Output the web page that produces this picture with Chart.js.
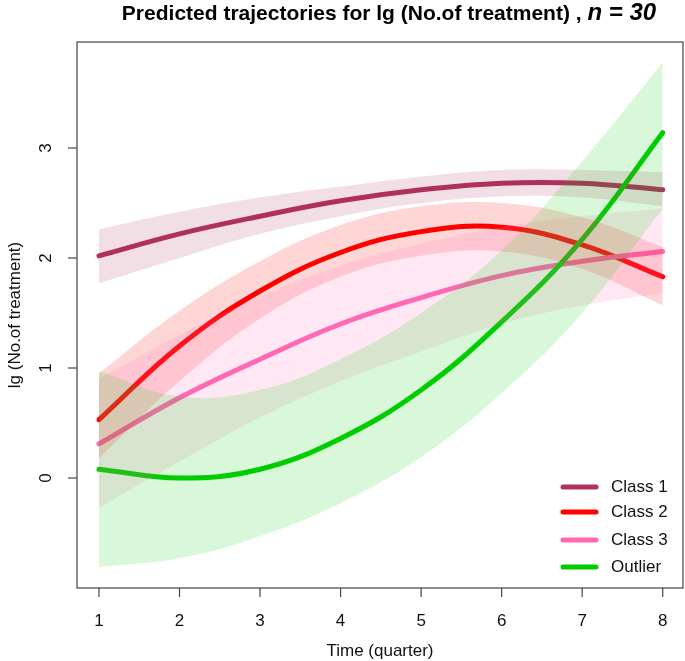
<!DOCTYPE html>
<html>
<head>
<meta charset="utf-8">
<script src="https://cdn.jsdelivr.net/npm/chart.js@4.4.1/dist/chart.umd.min.js"></script>
<style>
  body { margin: 0; background: #fff; }
  #wrap { width: 685px; height: 661px; }
</style>
</head>
<body>
<div id="wrap"><canvas id="trajChart" width="685" height="661"></canvas></div>
<script>
// quarters on the x axis
var quarters = [1, 2, 3, 4, 5, 6, 7, 8];
var xTicks = [1, 2, 3, 4, 5, 6, 7, 8];
var yTicks = [0, 1, 2, 3];

// predicted trajectories
var class1 = [2.02, 2.22, 2.38, 2.52, 2.62, 2.68, 2.68, 2.62];
var class1Lo = [1.77, 2.00, 2.22, 2.38, 2.50, 2.56, 2.55, 2.47];
var class1Hi = [2.26, 2.42, 2.55, 2.65, 2.74, 2.80, 2.80, 2.78];

var class2 = [0.53, 1.20, 1.70, 2.05, 2.24, 2.28, 2.12, 1.83];
var class2Lo = [0.18, 0.88, 1.45, 1.83, 2.02, 2.06, 1.90, 1.57];
var class2Hi = [0.95, 1.52, 1.97, 2.30, 2.47, 2.50, 2.37, 2.10];

var class3 = [0.31, 0.73, 1.08, 1.40, 1.64, 1.84, 1.97, 2.06];
var class3Lo = [-0.27, 0.15, 0.55, 0.88, 1.15, 1.40, 1.57, 1.68];
var class3Hi = [0.90, 1.30, 1.65, 1.93, 2.13, 2.28, 2.38, 2.45];

var outlier = [0.08, 0.00, 0.08, 0.36, 0.80, 1.42, 2.17, 3.14];
var outlierLo = [-0.81, -0.73, -0.53, -0.23, 0.19, 0.77, 1.50, 2.45];
var outlierHi = [0.97, 0.74, 0.80, 1.08, 1.50, 2.07, 2.88, 3.78];

var seriesNames = ["Class 1", "Class 2", "Class 3", "Outlier"];
var lineColors = ["#B03060", "#FF0000", "#FF69B4", "#00CD00"];
var bandColors = ["rgba(176,48,96,0.16)", "rgba(255,0,0,0.16)", "rgba(255,105,180,0.16)", "rgba(0,205,0,0.15)"];

var FONT = "'Liberation Sans', Arial, sans-serif";
var TENSION = 0.4;

function toPoints(values) {
    return quarters.map(function (q, i) { return { x: q, y: values[i] }; });
}

var lines = [class1, class2, class3, outlier];
var los = [class1Lo, class2Lo, class3Lo, outlierLo];
var his = [class1Hi, class2Hi, class3Hi, outlierHi];

var datasets = [];
// bands first in the list; order makes them draw over the lines
for (var i = 0; i < 4; i++) {
    datasets.push({
        data: toPoints(his[i]),
        fill: "+1",
        backgroundColor: bandColors[i],
        borderWidth: 0,
        pointRadius: 0,
        tension: TENSION,
        order: 4 - i
    });
    datasets.push({
        data: toPoints(los[i]),
        fill: false,
        borderWidth: 0,
        pointRadius: 0,
        tension: TENSION,
        order: 4 - i
    });
}
for (var j = 0; j < 4; j++) {
    datasets.push({
        label: seriesNames[j],
        data: toPoints(lines[j]),
        borderColor: lineColors[j],
        borderWidth: 5,
        borderCapStyle: "round",
        borderJoinStyle: "round",
        pointRadius: 0,
        fill: false,
        tension: TENSION,
        order: 20 - j
    });
}

// R-style frame, ticks, labels, title and legend
var baseGraphics = {
    id: "baseGraphics",
    afterDraw: function (chart) {
        var ctx = chart.ctx;
        var area = chart.chartArea;
        var xs = chart.scales.x;
        var ys = chart.scales.y;
        ctx.save();

        ctx.strokeStyle = "#444";
        ctx.lineWidth = 1.2;
        ctx.strokeRect(area.left, area.top, area.right - area.left, area.bottom - area.top);

        ctx.fillStyle = "#111";
        ctx.font = "17px " + FONT;
        ctx.textAlign = "center";
        ctx.textBaseline = "middle";
        xTicks.forEach(function (v) {
            var px = xs.getPixelForValue(v);
            ctx.beginPath();
            ctx.moveTo(px, area.bottom);
            ctx.lineTo(px, area.bottom + 9);
            ctx.stroke();
            ctx.fillText(String(v), px, 621);
        });
        yTicks.forEach(function (v) {
            var py = ys.getPixelForValue(v);
            ctx.beginPath();
            ctx.moveTo(area.left - 9, py);
            ctx.lineTo(area.left, py);
            ctx.stroke();
            ctx.save();
            ctx.translate(46, py);
            ctx.rotate(-Math.PI / 2);
            ctx.fillText(String(v), 0, 0);
            ctx.restore();
        });

        ctx.font = "17px " + FONT;
        ctx.fillText("Time (quarter)", (area.left + area.right) / 2, 651);
        ctx.save();
        ctx.translate(15, (area.top + area.bottom) / 2);
        ctx.rotate(-Math.PI / 2);
        ctx.fillText("lg (No.of treatment)", 0, 0);
        ctx.restore();

        // title with italic n
        var part1 = "Predicted trajectories for lg (No.of treatment) , ";
        var part2 = "n = 30";
        ctx.fillStyle = "#000";
        ctx.textAlign = "left";
        ctx.font = "bold 21px " + FONT;
        var w1 = ctx.measureText(part1).width;
        ctx.font = "italic bold 24px " + FONT;
        var w2 = ctx.measureText(part2).width;
        var tx = 389 - (w1 + w2) / 2;
        ctx.font = "bold 21px " + FONT;
        ctx.fillText(part1, tx, 14);
        ctx.font = "italic bold 24px " + FONT;
        ctx.fillText(part2, tx + w1, 13);

        // legend
        var rows = [487, 512, 540, 567];
        ctx.font = "17px " + FONT;
        ctx.textBaseline = "middle";
        ctx.lineCap = "round";
        seriesNames.forEach(function (name, k) {
            ctx.strokeStyle = lineColors[k];
            ctx.lineWidth = 5;
            ctx.beginPath();
            ctx.moveTo(563, rows[k]);
            ctx.lineTo(596, rows[k]);
            ctx.stroke();
            ctx.fillStyle = "#111";
            ctx.fillText(name, 611, rows[k]);
        });

        ctx.restore();
    }
};

var ctx = document.getElementById("trajChart").getContext("2d");
var trajChart = new Chart(ctx, {
    type: "line",
    data: { datasets: datasets },
    options: {
        responsive: false,
        animation: false,
        layout: { padding: { left: 77, right: 2, top: 42, bottom: 73 } },
        scales: {
            x: { type: "linear", min: 0.727, max: 8.252, display: false },
            y: { type: "linear", min: -1.0, max: 3.964, display: false }
        },
        plugins: {
            legend: { display: false },
            tooltip: { enabled: false },
            filler: { propagate: false }
        }
    },
    plugins: [baseGraphics]
});
</script>
</body>
</html>
